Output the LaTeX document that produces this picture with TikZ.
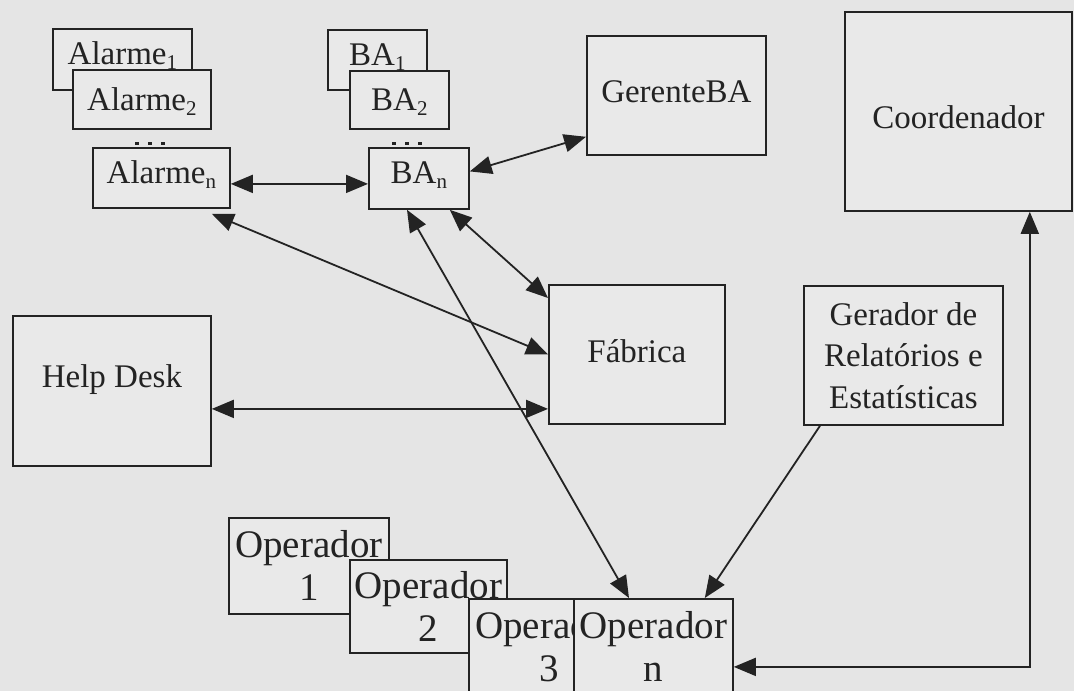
\documentclass[tikz,border=0pt]{standalone}
\usepackage{fontspec}
\setmainfont{Liberation Serif}
\usetikzlibrary{arrows.meta,calc}
\definecolor{bg}{RGB}{229,229,229}
\definecolor{boxfill}{RGB}{233,233,233}
\definecolor{ink}{RGB}{35,35,35}
\newcommand\sbs[1]{\raisebox{-5pt}{\fontsize{21}{21}\selectfont #1}}
\tikzset{
  box/.style={draw=ink, fill=boxfill, line width=1.8pt, inner sep=0pt, anchor=north west,
    text=ink, font=\fontsize{33}{41.5}\selectfont},
  opbox/.style={box, font=\fontsize{39}{43}\selectfont, align=center},
  link/.style={draw=ink, line width=1.8pt,
    {Triangle[length=22pt,width=18pt]}-{Triangle[length=22pt,width=18pt]}},
  onelink/.style={draw=ink, line width=1.8pt, -{Triangle[length=22pt,width=18pt]}},
}
\begin{document}
\begin{tikzpicture}[x=1pt,y=-1pt]
\fill[bg] (0,0) rectangle (1074,691);
\useasboundingbox (0,0) rectangle (1074,691);
\clip (0,0) rectangle (1074,691);

% dots above the n-th boxes
\foreach \x in {135,148,161}{\fill[ink] (\x,142) rectangle +(4,3);}
\foreach \x in {392,405,418}{\fill[ink] (\x,142) rectangle +(4,3);}

% Alarme stack
\node[box, minimum width=139pt, minimum height=61pt, text height=24pt, text depth=13pt] (a1) at (52,28) {Alarme\sbs{1}};
\node[box, minimum width=138pt, minimum height=59pt, text height=30pt, text depth=7pt] (a2) at (72,69) {Alarme\sbs{2}};
\node[box, minimum width=137pt, minimum height=60pt, text height=24pt, text depth=12pt] (an) at (92,147) {Alarme\sbs{n}};

% BA stack
\node[box, minimum width=99pt, minimum height=60pt, text height=24pt, text depth=12pt] (b1) at (327,29) {BA\sbs{1}};
\node[box, minimum width=99pt, minimum height=58pt, text height=30pt, text depth=8pt] (b2) at (349,70) {BA\sbs{2}};
\node[box, minimum width=100pt, minimum height=61pt, text height=24pt, text depth=13pt] (ban) at (368,147) {BA\sbs{n}};

\node[box, minimum width=179pt, minimum height=119pt, text height=24pt, text depth=9pt] (ger) at (586,35) {GerenteBA};
\node[box, minimum width=227pt, minimum height=199pt, text height=40pt, text depth=5pt] (co) at (844,11) {Coordenador};
\node[box, minimum width=198pt, minimum height=150pt, text height=24pt, text depth=30pt] (hd) at (12,315) {Help Desk};
\node[box, minimum width=176pt, minimum height=139pt, text height=25pt, text depth=8pt] (fab) at (548,284) {Fábrica};
\node[box, align=center, minimum width=199pt, minimum height=139pt] (gen) at (803,285) {Gerador de\\Relatórios e\\Estatísticas};

% Operador stack
\node[opbox, minimum width=160pt, minimum height=96pt] (op1) at (228,517) {Operador\\1};
\node[opbox, minimum width=157pt, minimum height=93pt] (op2) at (349,559) {Operador\\2};
\node[opbox, minimum width=160pt, minimum height=96pt] (op3) at (468,598) {Operador\\3};
\node[opbox, minimum width=159pt, minimum height=96pt] (opn) at (573,598) {Operador\\n};

% connectors
\coordinate (p1) at ([yshift=-6pt]an.east);
\draw[link] (p1) -- (p1 -| ban.west);
\draw[link] ([yshift=7pt]ban.east) -- ([yshift=19pt]ger.south west);
\draw[link] ([xshift=-19pt,yshift=-5pt]an.south east) -- (fab.west);
\draw[link] ([xshift=-20pt]ban.south east) -- ([yshift=-14pt]fab.north west);
\draw[link] ([xshift=39pt]ban.south west) -- ([xshift=56pt]opn.north west);
\draw[onelink] ([xshift=17pt]gen.south west) -- ([xshift=-29pt]opn.north east);
\coordinate (hdp) at ([yshift=-18pt]hd.east);
\draw[link] (hdp) -- (hdp -| fab.west);
\coordinate (cc) at ([xshift=-43pt]co.south east);
\coordinate (oc) at ([yshift=-20pt]opn.east);
\draw[link] (oc) -| (cc);
\end{tikzpicture}
\end{document}
